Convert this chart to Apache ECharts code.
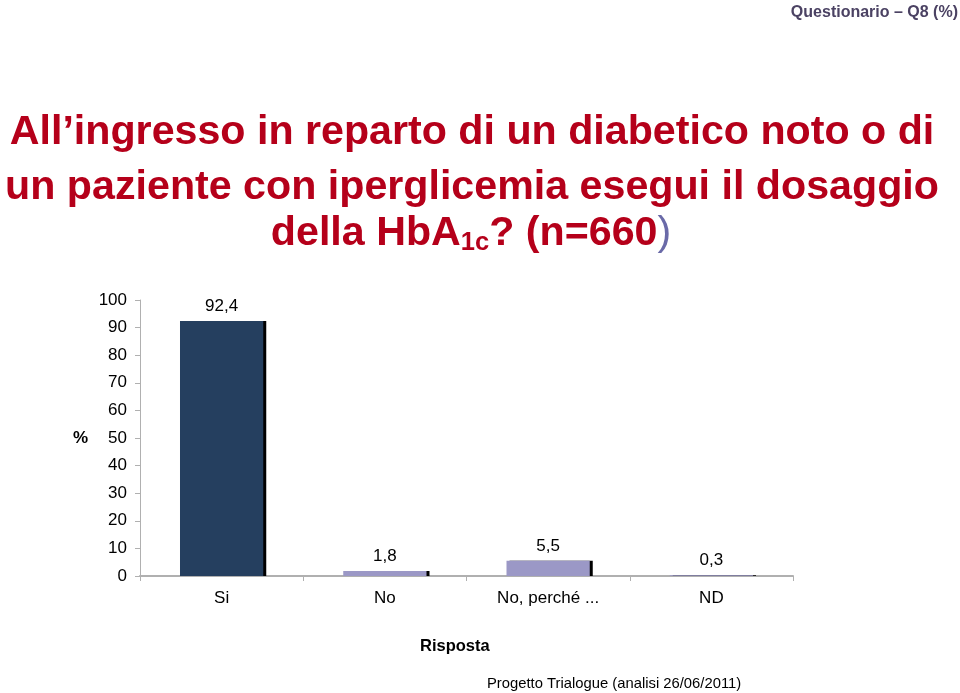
<!DOCTYPE html>
<html><head><meta charset="utf-8">
<script src="https://cdn.jsdelivr.net/npm/echarts@6/dist/echarts.min.js"></script>
<style>html,body{margin:0;padding:0;background:#fff}#c{width:960px;height:693px}</style>
</head><body><div id="c"></div>
<script>
const categories = ['Si', 'No', 'No, perché ...', 'ND'];
const values = [92.4, 1.8, 5.5, 0.3];
const yTicks = [0, 10, 20, 30, 40, 50, 60, 70, 80, 90, 100];
const titleLines = ['All\u2019ingresso in reparto di un diabetico noto o di', 'un paziente con iperglicemia esegui il dosaggio'];

const barColors = ['#253f5f', '#9b98c6', '#9b98c6', '#9b98c6'];
const chart = echarts.init(document.getElementById('c'));
const F = 'Liberation Sans, Arial, sans-serif';
const red = '#b5001a';
// pick title font size so the second line spans ~935px like the reference
const cv = document.createElement('canvas').getContext('2d');
cv.font = 'bold 40px "Liberation Sans"';
const TS = Math.round(40 * 935 / cv.measureText(titleLines[1]).width * 10) / 10;
function tline(text, y) {
  return { type: 'text', x: 472, y: y, style: { text: text, fontFamily: F, fontWeight: 'bold', fontSize: TS, fill: red, align: 'center', verticalAlign: 'middle' } };
}
chart.setOption({
  animation: false,
  backgroundColor: '#fff',
  graphic: [
    tline(titleLines[0], 133),
    tline(titleLines[1], 188),
    { type: 'text', x: 471, y: 234, style: { text: 'della HbA{s|1c}? (n=660{p|)}', fontFamily: F, fontWeight: 'bold', fontSize: TS, fill: red, align: 'center', verticalAlign: 'middle',
      rich: { s: { fontFamily: F, fontWeight: 'bold', fontSize: TS * 0.62, fill: red, padding: [TS * 0.45, 0, 0, 0] }, p: { fontFamily: F, fontWeight: 'normal', fontSize: TS, fill: '#6a6aa8' } } } },
    { type: 'text', x: 958, y: 13, style: { text: 'Questionario \u2013 Q8 (%)', fontFamily: F, fontWeight: 'bold', fontSize: 16, fill: '#4b4263', align: 'right', verticalAlign: 'middle' } }
  ],
  title: [
    { text: 'Risposta', left: 415, top: 633, textStyle: { fontFamily: F, fontWeight: 'bold', fontSize: 16.5, color: '#000' } },
    { text: 'Progetto Trialogue (analisi 26/06/2011)', left: 482, top: 671, textStyle: { fontFamily: F, fontWeight: 'normal', fontSize: 14.8, color: '#000' } }
  ],
  grid: { left: 140, right: 167, top: 300, bottom: 117, containLabel: false },
  xAxis: {
    type: 'category', data: categories,
    axisLine: { lineStyle: { color: '#b0b0b0', width: 2 } },
    axisTick: { show: true, length: 5, lineStyle: { color: '#b0b0b0' } },
    axisLabel: { fontFamily: F, fontSize: 17, color: '#000', margin: 14 }
  },
  yAxis: {
    type: 'value', min: 0, max: 100, interval: 10,
    name: '%', nameLocation: 'middle', nameRotate: 0, nameGap: 52,
    nameTextStyle: { fontFamily: F, fontSize: 17, fontWeight: 'bold', color: '#000' },
    axisLine: { show: true, lineStyle: { color: '#b0b0b0' } },
    axisTick: { show: true, length: 5, lineStyle: { color: '#b0b0b0' } },
    splitLine: { show: false },
    axisLabel: { fontFamily: F, fontSize: 17, color: '#000', margin: 13,
      formatter: v => yTicks.includes(v) ? String(v) : '' }
  },
  series: [{
    type: 'bar', barWidth: '51%',
    data: values.map((v, i) => ({ value: v, itemStyle: { color: barColors[i] } })),
    itemStyle: { shadowColor: '#000', shadowOffsetX: 3, shadowOffsetY: 0, shadowBlur: 0 },
    label: { show: true, position: 'top', distance: 6, fontFamily: F, fontSize: 17, color: '#000',
      formatter: p => String(p.value).replace('.', ',') }
  }]
});
</script></body></html>
